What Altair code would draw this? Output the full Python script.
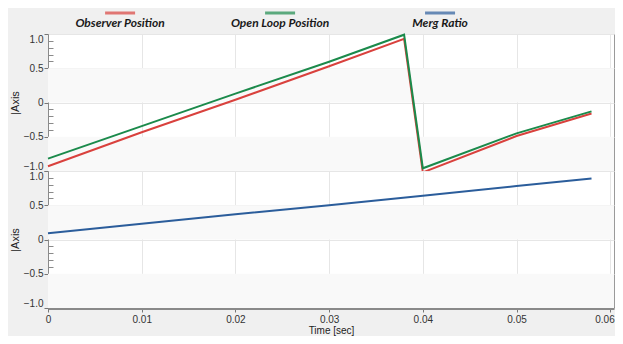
import altair as alt
import pandas as pd

# ---- data ----
time_pos = [0.0, 0.01, 0.02, 0.03, 0.038, 0.040, 0.05, 0.058]
observer_position = [-0.93, -0.435, 0.04, 0.53, 0.93, -1.02, -0.49, -0.16]
open_loop_position = [-0.82, -0.345, 0.13, 0.594, 0.99, -0.96, -0.45, -0.13]

time_ratio = [0.0, 0.01, 0.02, 0.03, 0.04, 0.05, 0.058]
merg_ratio = [0.09, 0.23, 0.37, 0.50, 0.64, 0.78, 0.89]

series_names = ["Observer Position", "Open Loop Position", "Merg Ratio"]
series_colors = ["#d9413d", "#1b8a4b", "#2b5d9b"]

y_major = [-1.0, -0.5, 0.0, 0.5, 1.0]
y_minor = [-0.9, -0.8, -0.7, -0.6, -0.4, -0.3, -0.2, -0.1,
           0.1, 0.2, 0.3, 0.4, 0.6, 0.7, 0.8, 0.9]
x_major = [0.0, 0.01, 0.02, 0.03, 0.04, 0.05, 0.06]
x_minor = [0.005, 0.015, 0.025, 0.035, 0.045, 0.055]
band_lo = [0.0, -1.0]
band_hi = [0.5, -0.5]

# ---- tables ----
pos_df = pd.concat([
    pd.DataFrame({"t": time_pos, "v": observer_position, "s": series_names[0]}),
    pd.DataFrame({"t": time_pos, "v": open_loop_position, "s": series_names[1]}),
])
ratio_df = pd.DataFrame({"t": time_ratio, "v": merg_ratio, "s": series_names[2]})
band_df = pd.DataFrame({"lo": band_lo, "hi": band_hi})
legend_df = pd.DataFrame({"s": series_names})

W, H = 566, 137
xscale = alt.Scale(domain=[0, 0.0604], nice=False, zero=False)
yscale = alt.Scale(domain=[-1, 1], nice=False, zero=False)
cscale = alt.Scale(domain=series_names, range=series_colors)

FONT = "Liberation Sans"
GRID = "#e6e6e6"


def y_main_axis():
    return alt.Axis(values=y_major, labelExpr="datum.value == 0 ? '0' : format(datum.value, '.1f')",
                    labelFlush=True, labelFont=FONT, labelFontSize=10, labelColor="#333",
                    labelPadding=1, tickSize=4, tickColor="#777", domainColor="#8a8a8a",
                    grid=True, gridColor=GRID, title="|Axis", titleFont=FONT,
                    titleFontSize=11, titleFontWeight="normal", titleColor="#222",
                    titlePadding=3, orient="left")


def y_minor_axis():
    return alt.Axis(values=y_minor, labels=False, domain=False, grid=False, tickSize=5,
                    tickColor="#8a8a8a", offset=-5, title=None, orient="left")


def x_minor_axis():
    return alt.Axis(values=x_minor, labels=False, domain=False, grid=False, tickSize=5,
                    tickColor="#8a8a8a", offset=-5, title=None, orient="bottom")


def bands():
    return alt.Chart(band_df).mark_rect(color="#f9f9f9").encode(
        x=alt.value(0), x2=alt.value(W),
        y=alt.Y("lo:Q", scale=yscale, axis=None), y2="hi:Q")


def panel(df, show_labels):
    if show_labels:
        xaxis = alt.Axis(values=x_major, labelExpr="datum.value == 0 ? '0' : format(datum.value, '.2f')",
                         labelAlign={"condition": {"test": "datum.value >= 0.059", "value": "right"},
                                     "value": "center"},
                         labelOffset={"condition": {"test": "datum.value >= 0.059", "value": 4},
                                      "value": 0},
                         labelFont=FONT, labelFontSize=10, labelColor="#333", labelPadding=2,
                         tickSize=4, tickColor="#777", domainColor="#8a8a8a", domainWidth=3,
                         grid=True, gridColor=GRID, title="Time [sec]", titleFont=FONT,
                         titleFontSize=10, titleFontWeight="normal", titleColor="#222",
                         titlePadding=1, orient="bottom")
    else:
        xaxis = alt.Axis(values=x_major, labels=False, ticks=False, domain=False,
                         grid=True, gridColor=GRID, title=None, orient="bottom")
    minor = alt.Chart(df).mark_line(opacity=0).encode(
        x=alt.X("t:Q", scale=xscale, axis=x_minor_axis()),
        y=alt.Y("v:Q", scale=yscale, axis=y_minor_axis()),
        detail="s:N")
    lines = alt.Chart(df).mark_line(strokeWidth=2).encode(
        x=alt.X("t:Q", scale=xscale, axis=xaxis),
        y=alt.Y("v:Q", scale=yscale, axis=y_main_axis()),
        color=alt.Color("s:N", scale=cscale, legend=None))
    return alt.layer(bands(), minor, lines).resolve_axis(x="independent", y="independent").properties(
        width=W, height=H, view=alt.ViewBackground(fill="white", stroke="#9a9a9a", strokeWidth=1))


legend_x = alt.X("s:N", sort=series_names, axis=None,
                 scale=alt.Scale(type="point", padding=0.769, align=0.293))
legend_swatch = alt.Chart(legend_df).mark_tick(orient="horizontal", size=30, thickness=3).encode(
    x=legend_x, y=alt.value(4), color=alt.Color("s:N", scale=cscale, legend=None))
legend_text = alt.Chart(legend_df).mark_text(font="Lato", fontSize=12, fontWeight="bold",
                                             fontStyle="italic", color="#1a1a1a", baseline="middle").encode(
    x=legend_x, y=alt.value(14), text="s:N")
legend = alt.layer(legend_swatch, legend_text).properties(
    width=W, height=25, view=alt.ViewBackground(fill="transparent", stroke="transparent"))

chart = alt.vconcat(legend, panel(pos_df, False), panel(ratio_df, True),
                    spacing=0, bounds="flush").configure(
    background="#f0f0f0", padding={"left": 0, "top": 0, "right": 0, "bottom": 0})

chart.save("out.html", embed_options={"renderer": "svg", "actions": False})
